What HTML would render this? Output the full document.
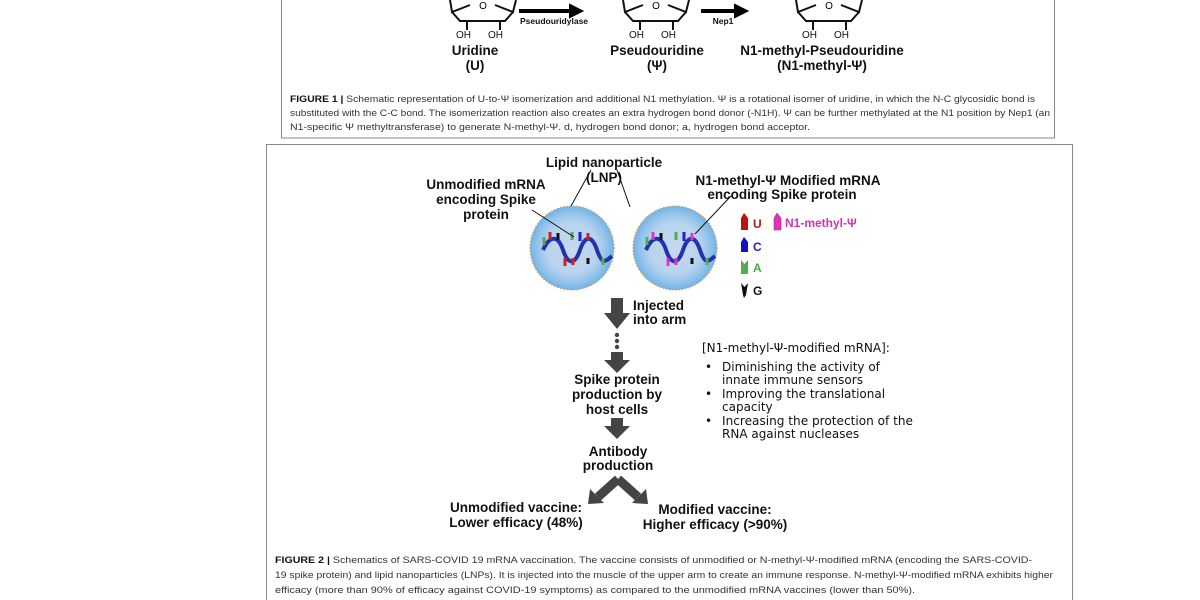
<!DOCTYPE html>
<html><head><meta charset="utf-8"><style>
html,body{margin:0;padding:0;background:#fff;width:1200px;height:600px;overflow:hidden}
svg{display:block}
text{font-family:"Liberation Sans",sans-serif}
.b{font-weight:bold;fill:#111}
.cap{font-size:9.3px;fill:#333}
.cal{font-family:"DejaVu Sans",sans-serif;font-size:12px}
</style></head><body>
<svg width="1200" height="600" viewBox="0 0 1200 600" xmlns="http://www.w3.org/2000/svg">
<defs>
<radialGradient id="g" cx="50%" cy="50%" r="50%">
<stop offset="0" stop-color="#c6d9ef"/><stop offset="0.6" stop-color="#b9d3ee"/><stop offset="0.85" stop-color="#8fc2ea"/><stop offset="1" stop-color="#6fb3e6"/>
</radialGradient>
</defs>
<rect x="281.5" y="-2" width="773" height="140" fill="none" stroke="#888" stroke-width="1"/>
<g fill="none" stroke="#111" stroke-width="2">
<path d="M450 0 L452 12 L470 5 M495 5 L513 12 L516 0 M452 12 L460 21 L505 21 L513 12 M467 21 L467 30 M500 21 L500 30"/>
<path d="M623 0 L625 12 L643 5 M668 5 L686 12 L689 0 M625 12 L633 21 L678 21 L686 12 M640 21 L640 30 M673 21 L673 30"/>
<path d="M796 0 L798 12 L816 5 M841 5 L859 12 L862 0 M798 12 L806 21 L851 21 L859 12 M813 21 L813 30 M846 21 L846 30"/>
</g>
<text x="483" y="9" font-size="10" text-anchor="middle">O</text>
<text x="656" y="9" font-size="10" text-anchor="middle">O</text>
<text x="829" y="9" font-size="10" text-anchor="middle">O</text>
<g font-size="10" fill="#111">
<text x="456" y="38">OH</text><text x="488" y="38">OH</text>
<text x="629" y="38">OH</text><text x="661" y="38">OH</text>
<text x="802" y="38">OH</text><text x="834" y="38">OH</text>
</g>
<path d="M520 10 L570 10 L570 5 L582 11 L570 17 L570 12 L520 12 Z" fill="#000" stroke="#000" stroke-width="2"/>
<path d="M702 10 L735 10 L735 5 L747 11 L735 17 L735 12 L702 12 Z" fill="#000" stroke="#000" stroke-width="2"/>
<text x="520" y="24" font-size="8.5" class="b">Pseudouridylase</text>
<text x="723" y="24" font-size="8.5" class="b" text-anchor="middle">Nep1</text>
<g class="b" font-size="13.5" text-anchor="middle">
<text x="475" y="55">Uridine</text><text x="475" y="70">(U)</text>
<text x="657" y="55">Pseudouridine</text><text x="657" y="70">(Ψ)</text>
<text x="822" y="55">N1-methyl-Pseudouridine</text><text x="822" y="70">(N1-methyl-Ψ)</text>
</g>
<g class="cap">
<text x="290" y="102" textLength="745" lengthAdjust="spacingAndGlyphs"><tspan font-weight="bold" fill="#111">FIGURE 1 |</tspan> Schematic representation of U-to-Ψ isomerization and additional N1 methylation. Ψ is a rotational isomer of uridine, in which the N-C glycosidic bond is</text>
<text x="290" y="116" textLength="760" lengthAdjust="spacingAndGlyphs">substituted with the C-C bond. The isomerization reaction also creates an extra hydrogen bond donor (-N1H). Ψ can be further methylated at the N1 position by Nep1 (an</text>
<text x="290" y="130" textLength="520" lengthAdjust="spacingAndGlyphs">N1-specific Ψ methyltransferase) to generate N-methyl-Ψ. d, hydrogen bond donor; a, hydrogen bond acceptor.</text>
</g>
<rect x="266.5" y="144.5" width="806" height="470" fill="none" stroke="#888" stroke-width="1"/>
<g class="b" font-size="13.5" text-anchor="middle">
<text x="604" y="167">Lipid nanoparticle</text><text x="604" y="182">(LNP)</text>
<text x="486" y="189">Unmodified mRNA</text><text x="486" y="204">encoding Spike</text><text x="486" y="219">protein</text>
<text x="788" y="185">N1-methyl-Ψ Modified mRNA</text><text x="782" y="199">encoding Spike protein</text>
</g>
<circle cx="572" cy="248" r="42" fill="url(#g)" stroke="#d9a060" stroke-width="1.5" stroke-dasharray="1.2 2"/>
<circle cx="675" cy="248" r="42" fill="url(#g)" stroke="#d9a060" stroke-width="1.5" stroke-dasharray="1.2 2"/>
<g fill="none" stroke="#2233aa" stroke-width="4">
<path d="M543 250 C550 235 558 235 563 250 S575 265 580 250 S592 235 597 250 S605 262 612 256"/>
<path d="M646 250 C653 235 661 235 666 250 S678 265 683 250 S695 235 700 250 S708 262 715 256"/>
</g>
<g stroke-width="3">
<line x1="544" y1="245" x2="544" y2="237" stroke="#5a5"/><line x1="550" y1="240" x2="550" y2="232" stroke="#c22"/><line x1="558" y1="240" x2="558" y2="233" stroke="#111"/>
<line x1="565" y1="258" x2="565" y2="266" stroke="#c22"/><line x1="573" y1="258" x2="573" y2="265" stroke="#c22"/><line x1="572" y1="240" x2="572" y2="232" stroke="#5a5"/>
<line x1="580" y1="241" x2="580" y2="232" stroke="#22c"/><line x1="588" y1="240" x2="588" y2="233" stroke="#c22"/><line x1="588" y1="258" x2="588" y2="264" stroke="#111"/><line x1="603" y1="258" x2="603" y2="265" stroke="#5a5"/>
<line x1="647" y1="245" x2="647" y2="237" stroke="#5a5"/><line x1="653" y1="240" x2="653" y2="232" stroke="#d3c"/><line x1="661" y1="240" x2="661" y2="233" stroke="#111"/>
<line x1="668" y1="258" x2="668" y2="266" stroke="#d3c"/><line x1="676" y1="258" x2="676" y2="265" stroke="#d3c"/><line x1="676" y1="240" x2="676" y2="232" stroke="#5a5"/>
<line x1="684" y1="241" x2="684" y2="232" stroke="#22c"/><line x1="692" y1="240" x2="692" y2="233" stroke="#d3c"/><line x1="692" y1="258" x2="692" y2="264" stroke="#111"/><line x1="707" y1="258" x2="707" y2="265" stroke="#5a5"/>
</g>
<g stroke="#111" stroke-width="1">
<line x1="591" y1="170" x2="571" y2="206"/><line x1="617" y1="170" x2="630" y2="207"/>
<line x1="532" y1="210" x2="574" y2="237"/><line x1="731" y1="196" x2="695" y2="234"/>
</g>
<path d="M741 218 L744 213 L748 218 L748 230 L741 230 Z" fill="#b11"/>
<text x="753" y="228" font-size="12" font-weight="bold" fill="#b11">U</text>
<path d="M774 218 L777 213 L781 218 L781 230 L774 230 Z" fill="#d3b" stroke="#a18" stroke-width="0.5"/>
<text x="785" y="227" font-size="12" font-weight="bold" fill="#c3b">N1-methyl-Ψ</text>
<path d="M741 242 L744 237 L748 242 L748 252 L741 252 Z" fill="#11c"/>
<text x="753" y="251" font-size="12" font-weight="bold" fill="#22c">C</text>
<path d="M741 260 L744.5 264 L748 260 L748 274 L741 274 Z" fill="#5a5"/>
<text x="753" y="272" font-size="12" font-weight="bold" fill="#4a4">A</text>
<path d="M741 283 L744.5 287 L748 283 L746 295 L744 298 L743 295 Z" fill="#111"/>
<text x="753" y="295" font-size="12" class="b">G</text>
<g fill="#444">
<path d="M611 298 H623 V313 H630 L617 329 L604 313 H611 Z"/>
<circle cx="617" cy="335" r="2.2"/><circle cx="617" cy="341" r="2.2"/><circle cx="617" cy="347" r="2.2"/>
<path d="M611 352 H623 V360 H630 L617 373 L604 360 H611 Z"/>
<path d="M611 418 H623 V426 H630 L617 439 L604 426 H611 Z"/>
</g>
<g stroke="#444" stroke-width="9" fill="none">
<line x1="618" y1="479" x2="598" y2="497"/><line x1="618" y1="479" x2="638" y2="497"/>
</g>
<g fill="#444">
<path d="M588 504 L590 489 L604 503 Z"/>
<path d="M648 504 L646 489 L632 503 Z"/>
</g>
<g class="b" font-size="13.5">
<text x="633" y="310">Injected</text><text x="633" y="324">into arm</text>
</g>
<g class="b" font-size="13.5" text-anchor="middle">
<text x="617" y="384">Spike protein</text><text x="617" y="399">production by</text><text x="617" y="414">host cells</text>
<text x="618" y="456">Antibody</text><text x="618" y="470">production</text>
<text x="516" y="512">Unmodified vaccine:</text><text x="516" y="527">Lower efficacy (48%)</text>
<text x="715" y="514">Modified vaccine:</text><text x="715" y="529">Higher efficacy (&gt;90%)</text>
</g>
<g fill="#111">
<text x="702" y="352" class="cal">[N1-methyl-Ψ-modified mRNA]:</text>
<text x="705" y="371" class="cal">•</text><text x="722" y="371" class="cal">Diminishing the activity of</text>
<text x="722" y="384" class="cal">innate immune sensors</text>
<text x="705" y="398" class="cal">•</text><text x="722" y="398" class="cal">Improving the translational</text>
<text x="722" y="411" class="cal">capacity</text>
<text x="705" y="425" class="cal">•</text><text x="722" y="425" class="cal" textLength="191" lengthAdjust="spacingAndGlyphs">Increasing the protection of the</text>
<text x="722" y="438" class="cal">RNA against nucleases</text>
</g>
<g class="cap">
<text x="275" y="563" textLength="757" lengthAdjust="spacingAndGlyphs"><tspan font-weight="bold" fill="#111">FIGURE 2 |</tspan> Schematics of SARS-COVID 19 mRNA vaccination. The vaccine consists of unmodified or N-methyl-Ψ-modified mRNA (encoding the SARS-COVID-</text>
<text x="275" y="578" textLength="778" lengthAdjust="spacingAndGlyphs">19 spike protein) and lipid nanoparticles (LNPs). It is injected into the muscle of the upper arm to create an immune response. N-methyl-Ψ-modified mRNA exhibits higher</text>
<text x="275" y="593" textLength="640" lengthAdjust="spacingAndGlyphs">efficacy (more than 90% of efficacy against COVID-19 symptoms) as compared to the unmodified mRNA vaccines (lower than 50%).</text>
</g>
</svg>
</body></html>
